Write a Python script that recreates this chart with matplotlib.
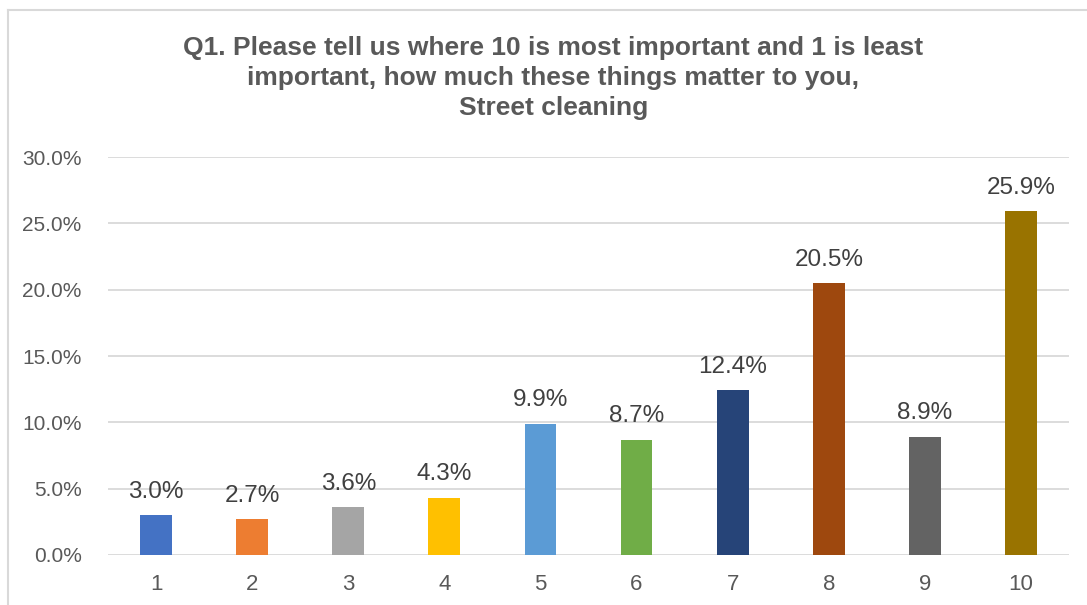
import matplotlib.pyplot as plt
from matplotlib.lines import Line2D
from matplotlib.ticker import FuncFormatter

plt.rcParams["font.family"] = ["Liberation Sans", "DejaVu Sans"]

# --- Data ---
categories = ["1", "2", "3", "4", "5", "6", "7", "8", "9", "10"]
shares = [3.0, 2.7, 3.6, 4.3, 9.9, 8.7, 12.4, 20.5, 8.9, 25.9]
bar_colors = ["#4472C4", "#ED7D31", "#A5A5A5", "#FFC000", "#5B9BD5",
              "#70AD47", "#264478", "#9E480E", "#636363", "#997300"]
title = ("Q1. Please tell us where 10 is most important and 1 is least\n"
         "important, how much these things matter to you,\n"
         "Street cleaning")

W, H = 1087, 605
fig = plt.figure(figsize=(W / 100, H / 100), dpi=100)
ax = fig.add_axes([108 / W, 1 - 555 / H, (1069 - 108) / W, (555 - 157) / H])

x = range(len(categories))
bars = ax.bar(x, shares, width=0.33, color=bar_colors, zorder=3)
for b, v in zip(bars, shares):
    ax.annotate(f"{v:.1f}%", (b.get_x() + b.get_width() / 2, v),
                xytext=(0, 9), textcoords="offset points",
                ha="center", va="bottom", fontsize=17.5, color="#404040")

ax.set_xlim(-0.5, len(categories) - 0.5)
ax.set_ylim(0, 30)
ax.set_yticks(range(0, 31, 5))
ax.yaxis.set_major_formatter(FuncFormatter(lambda v, _: f"{v:.1f}%"))
ax.set_xticks(list(x))
ax.set_xticklabels(categories)
ax.tick_params(axis="both", length=0, colors="#595959")
ax.tick_params(axis="x", pad=14, labelsize=16)
ax.tick_params(axis="y", pad=19, labelsize=15)
ax.grid(axis="y", color="#D9D9D9", linewidth=1.3, zorder=0)
for s in ax.spines.values():
    s.set_visible(False)

fig.text(0.509, 1 - 78 / H, title, ha="center", va="center", fontsize=19,
         fontweight="bold", color="#595959", linespacing=1.32)

# chart-area border (top and left edges visible)
fig.add_artist(Line2D([8 / W, 1], [1 - 10 / H, 1 - 10 / H], color="#D9D9D9", lw=1.5))
fig.add_artist(Line2D([8 / W, 8 / W], [0, 1 - 10 / H], color="#D9D9D9", lw=1.5))

fig.savefig("out.png", dpi=100)
